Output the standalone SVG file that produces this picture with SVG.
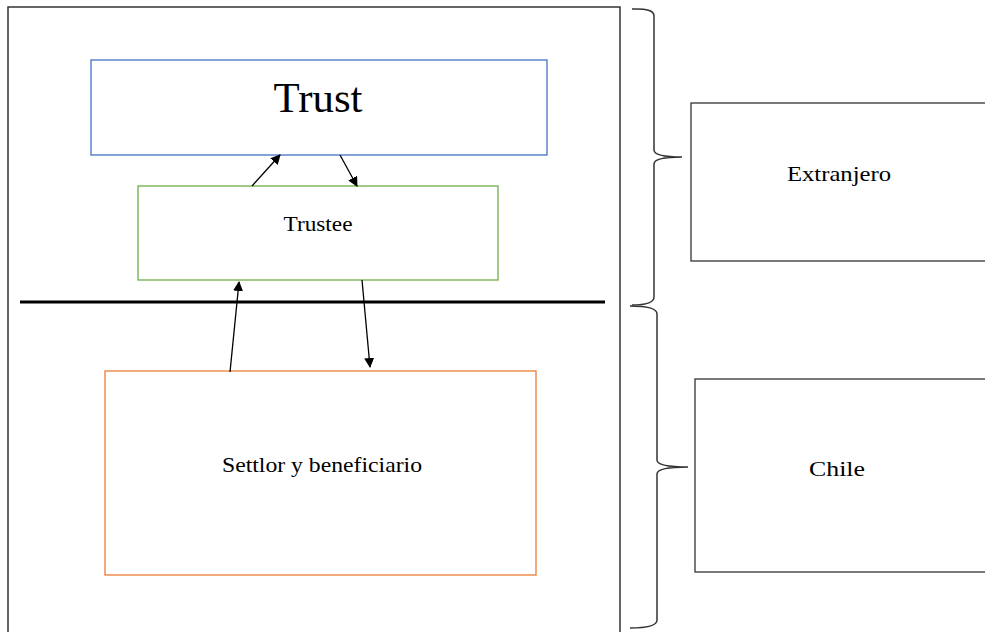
<svg xmlns="http://www.w3.org/2000/svg" width="985" height="632" viewBox="0 0 985 632">
<defs>
<marker id="ah" viewBox="0 0 10 10" refX="9" refY="5" markerWidth="10" markerHeight="10" markerUnits="userSpaceOnUse" orient="auto">
<path d="M0,0 L10,5 L0,10 z" fill="#000"/>
</marker>
</defs>
<style>
text{font-family:"Liberation Serif","Times New Roman",serif;fill:#000;text-anchor:middle}
.box{fill:#fff;stroke-width:1.3}
.brace{fill:none;stroke:#333;stroke-width:1.5}
.conn{stroke:#000;stroke-width:1.3;fill:none;marker-end:url(#ah)}
</style>
<rect width="985" height="632" fill="#fff"/>
<g id="outer"><rect x="8" y="7" width="612" height="640" fill="none" stroke="#333" stroke-width="1.5"/></g>
<g id="divider"><line x1="20" y1="302" x2="605" y2="302" stroke="#000" stroke-width="3"/></g>
<g id="trust"><rect class="box" x="91" y="60" width="456" height="95" stroke="#4472C4"/><text x="318" y="112" font-size="42" textLength="89" lengthAdjust="spacingAndGlyphs">Trust</text></g>
<g id="trustee"><rect class="box" x="138" y="186" width="360" height="94" stroke="#70AD47"/><text x="318" y="231" font-size="20" textLength="69" lengthAdjust="spacingAndGlyphs">Trustee</text></g>
<g id="settlor"><rect class="box" x="105" y="371" width="431" height="204" stroke="#ED7D31"/><text x="322" y="472" font-size="21" textLength="200" lengthAdjust="spacingAndGlyphs">Settlor y beneficiario</text></g>
<g id="extranjero"><rect class="box" x="691" y="103" width="310" height="158" stroke="#333"/><text x="839" y="181" font-size="21" textLength="104" lengthAdjust="spacingAndGlyphs">Extranjero</text></g>
<g id="chile"><rect class="box" x="695" y="379" width="310" height="193" stroke="#333"/><text x="837" y="476" font-size="21" textLength="56" lengthAdjust="spacingAndGlyphs">Chile</text></g>
<g id="braces">
<path class="brace" d="M632,9 Q654,8 654,16 L654,150 Q654,157 682,157 Q654,157 654,164 L654,297 Q654,305 632,305"/>
<path class="brace" d="M630,306 Q657,306 657,314 L657,460 Q657,467 688,467 Q657,467 657,474 L657,620 Q657,628 630,628"/>
</g>
<g id="connectors">
<line class="conn" x1="252" y1="186" x2="280" y2="155"/>
<line class="conn" x1="340" y1="155" x2="357" y2="186"/>
<line class="conn" x1="230" y1="372" x2="239" y2="282"/>
<line class="conn" x1="362" y1="280" x2="370" y2="367"/>
</g>
</svg>
